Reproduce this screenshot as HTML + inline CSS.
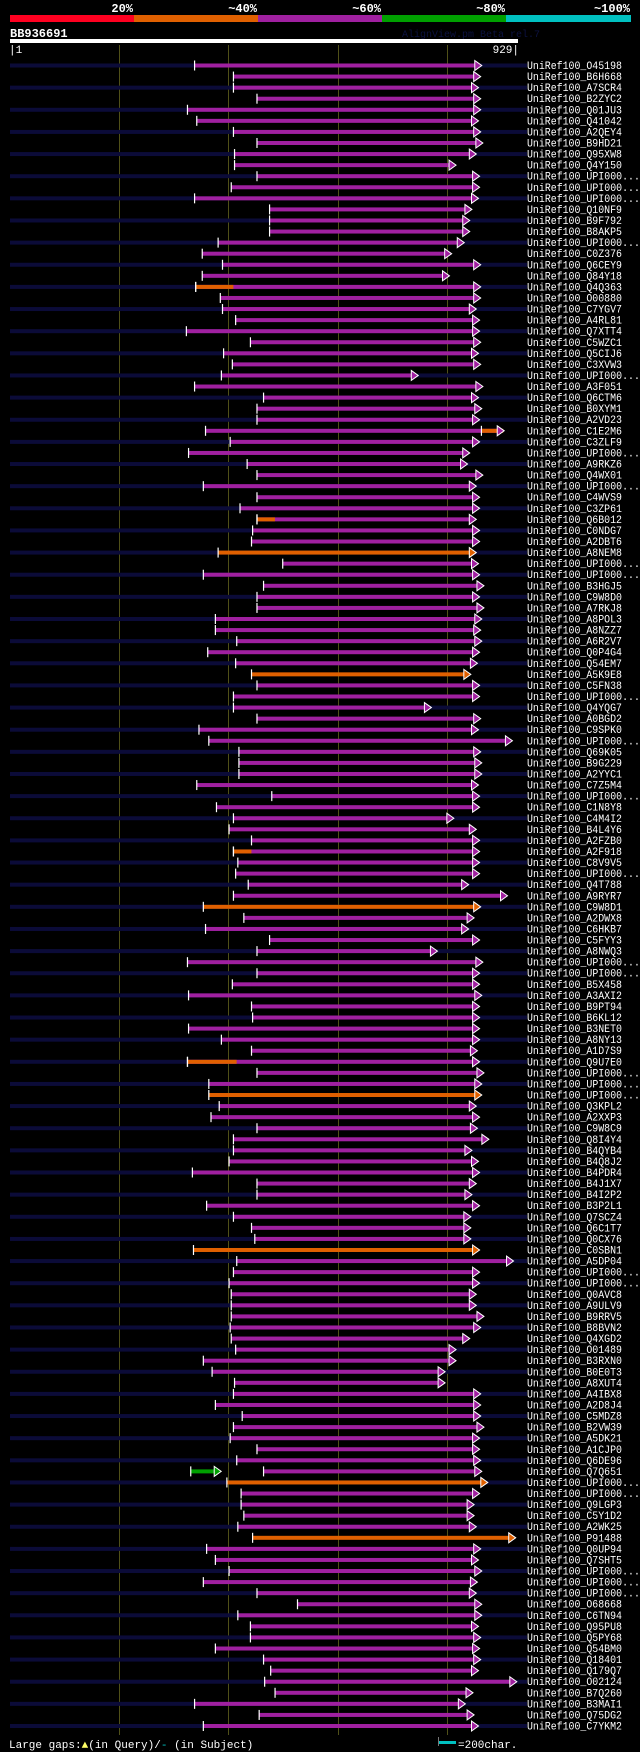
<!DOCTYPE html>
<html><head><meta charset="utf-8">
<style>
html,body{margin:0;padding:0;background:#000;}
svg{display:block;}
text{font-family:"Liberation Mono","DejaVu Sans Mono",monospace;}
</style></head>
<body>
<svg id="chart" width="640" height="1752" viewBox="0 0 640 1752" xmlns="http://www.w3.org/2000/svg">
  <g>
    <rect x="10" y="15" width="124" height="7" fill="#ff0020"/>
    <rect x="134" y="15" width="124" height="7" fill="#e06000"/>
    <rect x="258" y="15" width="124" height="7" fill="#a020a0"/>
    <rect x="382" y="15" width="124" height="7" fill="#00a000"/>
    <rect x="506" y="15" width="125" height="7" fill="#00c0c0"/>
    <g fill="#fff" font-size="12" font-weight="bold" text-anchor="end">
      <text x="133" y="12">20%</text>
      <text x="257" y="12">~40%</text>
      <text x="381" y="12">~60%</text>
      <text x="505" y="12">~80%</text>
      <text x="630" y="12">~100%</text>
    </g>
  </g>
  <text x="10" y="37" fill="#fff" font-size="12" font-weight="bold">BB936691</text>
  <text x="402" y="37" fill="#0c1240" font-size="10">AlignView.pm Beta rel.7</text>
  <rect x="10" y="39" width="508" height="4" fill="#fff"/>
  <text x="9" y="53" fill="#fff" font-size="11">|1</text>
  <text x="519" y="53" fill="#fff" font-size="11" text-anchor="end">929|</text>
  <g id="grid"></g>
  <g id="rows"></g>
  <g>
    <text x="9" y="1748" fill="#fff" font-size="11">Large gaps:<tspan fill="#ffff66">▲</tspan>(in Query)/<tspan fill="#00c0c0">-</tspan> (in Subject)</text>
    <rect x="438" y="1737" width="1" height="9" fill="#777"/>
    <rect x="439" y="1741" width="17" height="3" fill="#00c0c0"/>
    <text x="458" y="1748" fill="#fff" font-size="11">=200char.</text>
  </g>
</svg>
<script>
const queryLength = 929;
const labels = ["O45198","B6H668","A7SCR4","B2ZYC2","Q01JU3","Q41042","A2QEY4","B9HD21","Q95XW8","Q4Y150","UPI000...","UPI000...","UPI000...","Q10NF9","B9F792","B8AKP5","UPI000...","C0Z376","Q6CEY9","Q84Y18","Q4Q363","O00880","C7YGV7","A4RL81","Q7XTT4","C5WZC1","Q5CIJ6","C3XVW3","UPI000...","A3F051","Q6CTM6","B0XYM1","A2VD23","C1E2M6","C3ZLF9","UPI000...","A9RKZ6","Q4WX01","UPI000...","C4WVS9","C3ZP61","Q6B012","C0NDG7","A2DBT6","A8NEM8","UPI000...","UPI000...","B3HGJ5","C9W8D0","A7RKJ8","A8POL3","A8NZZ7","A6R2V7","Q0P4G4","Q54EM7","A5K9E8","C5FN38","UPI000...","Q4YQG7","A0BGD2","C9SPK0","UPI000...","Q69K05","B9G229","A2YYC1","C7Z5M4","UPI000...","C1N8Y8","C4M4I2","B4L4Y6","A2FZB0","A2F918","C8V9V5","UPI000...","Q4T788","A9RYR7","C9W8D1","A2DWX8","C6HKB7","C5FYY3","A8NWQ3","UPI000...","UPI000...","B5X458","A3AXI2","B9PT94","B6KL12","B3NET0","A8NY13","A1D7S9","Q9U7E0","UPI000...","UPI000...","UPI000...","Q3KPL2","A2XXP3","C9W8C9","Q8I4Y4","B4QYB4","B4Q8J2","B4PDR4","B4J1X7","B4I2P2","B3P2L1","Q7SCZ4","Q6C1T7","Q0CX76","C0SBN1","A5DP04","UPI000...","UPI000...","Q0AVC8","A9ULV9","B9RRV5","B8BVN2","Q4XGD2","O01489","B3RXN0","B0E0T3","A8XUT4","A4IBX8","A2D8J4","C5MDZ8","B2VW39","A5DK21","A1CJP0","Q6DE96","Q7Q651","UPI000...","UPI000...","Q9LGP3","C5Y1D2","A2WK25","P91488","Q0UP94","Q7SHT5","UPI000...","UPI000...","UPI000...","O68668","C6TN94","Q95PU8","Q5PY68","Q54BM0","Q18401","Q179Q7","O02124","B7Q260","B3MAI1","Q75DG2","C7YKM2"];
const starts = [338,409,409,452,325,342,409,452,411,411,452,405,338,475,475,475,381,352,389,352,340,385,389,413,323,440,391,407,387,338,464,452,452,358,403,327,434,452,354,452,421,452,444,442,381,499,354,464,452,452,376,376,415,362,413,442,452,409,409,452,346,364,419,419,419,342,479,378,409,401,442,409,417,413,436,409,354,428,358,475,452,325,452,407,327,442,444,327,387,442,325,452,364,364,383,368,452,409,409,401,334,452,452,360,409,442,448,336,415,409,401,405,405,405,403,405,413,354,370,411,409,376,425,409,403,452,415,464,397,423,423,428,417,444,360,376,401,354,452,526,417,440,440,376,464,477,466,485,338,456,354];
const ends = [861,859,855,859,859,855,859,863,851,814,857,857,855,843,839,839,829,806,859,802,859,859,851,857,857,859,855,859,745,863,855,861,857,902,857,839,835,863,851,857,857,851,857,857,851,855,857,865,857,865,861,859,861,857,853,841,857,857,769,859,855,917,859,861,861,855,857,857,810,851,857,857,857,857,837,908,859,847,837,857,780,863,857,857,861,857,857,857,857,853,857,865,861,861,851,857,853,874,843,855,857,851,843,857,841,841,841,857,919,857,857,851,851,865,859,839,814,814,794,794,859,859,859,865,857,857,859,861,872,857,847,847,851,923,859,855,861,853,851,861,861,855,859,857,859,855,925,845,831,847,855];
const orangeRows = [44,55,76,93,107,128,133];
const segRows = [20,33,41,71,90,127];
const segStarts = [340,862,452,409,325,331];
const segEnds = [409,902,485,442,415,385];
const segColors = ["#e06000","#e06000","#e06000","#e06000","#e06000","#00a000"];
const segArrow = [false,false,false,false,false,true];

const NS = "http://www.w3.org/2000/svg";
const X0 = 10, X1 = 518, ROW0 = 65.5, ROWH = 11.07;
function xs(u){ return X0 + (u - 1) / (queryLength - 1) * (X1 - X0); }
function ys(i){ return ROW0 + i * ROWH; }
function mk(tag, attrs, parent){
  const el = document.createElementNS(NS, tag);
  for (const k in attrs) el.setAttribute(k, attrs[k]);
  parent.appendChild(el);
  return el;
}
const grid = document.getElementById('grid');
[200,400,600,800].forEach(function(u){
  const l = mk('line', {x1: Math.round(xs(u))+0.5, x2: Math.round(xs(u))+0.5, y1: 45, y2: 1735, stroke: '#505018', 'stroke-width': 1}, grid);
  
  
});
const rows = document.getElementById('rows');
function arrow(g, xe, y, color){
  const a = mk('polygon', {points: (xe-6)+','+(y-5)+' '+(xe+1)+','+y+' '+(xe-6)+','+(y+5), fill: color, stroke: '#fff', 'stroke-width': 1}, g);
  
  
}
labels.forEach(function(lab, i){
  const y = ys(i);
  const g = mk('g', {}, rows);
  
  
  if (i % 2 === 0) {
    const bg = mk('rect', {x: 10, y: y - 2, width: 517, height: 4, fill: '#0b0b38'}, g);
    
    
  }
  const color = orangeRows.indexOf(i) >= 0 ? '#e06000' : '#a020a0';
  const xa = xs(starts[i]), xb = xs(ends[i]);
  const bar = mk('rect', {x: xa, y: y - 2, width: xb - xa - 5, height: 4, fill: color}, g);
  
  
  for (let s = 0; s < segRows.length; s++) {
    if (segRows[s] !== i) continue;
    const sa = xs(segStarts[s]), sb = xs(segEnds[s]);
    const sg = mk('rect', {x: sa, y: y - 2, width: sb - sa - (segArrow[s] ? 5 : 0), height: 4, fill: segColors[s]}, g);
    
    
    const st = mk('rect', {x: sa - 0.5, y: y - 5, width: 1.2, height: 10, fill: '#fff'}, g);
    
    
    if (segArrow[s]) arrow(g, sb, y, segColors[s]);
  }
  const tick = mk('rect', {x: xa - 0.5, y: y - 5, width: 1.2, height: 10, fill: '#fff'}, g);
  
  
  arrow(g, xb, y, color);
  const full = 'UniRef100_' + lab;
  const t = mk('text', {x: 527, y: y + 3.5, fill: '#fff', 'font-size': 11, textLength: (full.length * 5.94).toFixed(1), lengthAdjust: 'spacingAndGlyphs'}, g);
  
  
  t.textContent = full;
});
</script>
</body></html>
